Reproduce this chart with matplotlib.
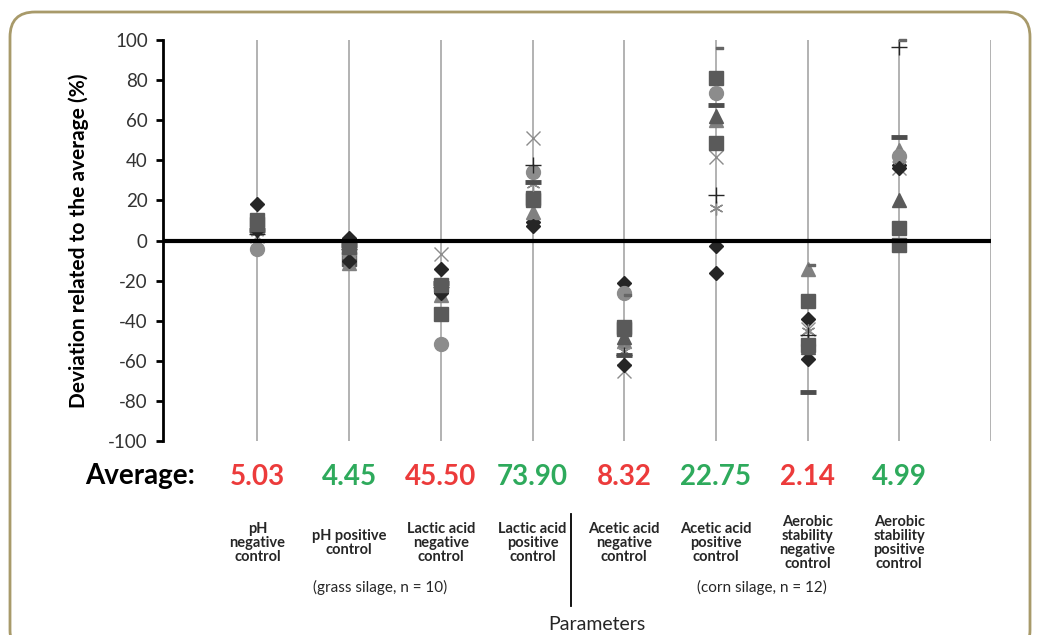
import numpy as np
import matplotlib
matplotlib.use("Agg")
import matplotlib.pyplot as plt
from matplotlib.patches import FancyBboxPatch
from matplotlib.path import Path
from matplotlib.transforms import IdentityTransform

plt.rcParams['font.family'] = ['Lato', 'DejaVu Sans']
plt.rcParams['axes.unicode_minus'] = False

# parameters (x positions 1..8)
categories = ["pH\nnegative\ncontrol", "pH positive\ncontrol",
              "Lactic acid\nnegative\ncontrol", "Lactic acid\npositive\ncontrol",
              "Acetic acid\nnegative\ncontrol", "Acetic acid\npositive\ncontrol",
              "Aerobic\nstability\nnegative\ncontrol", "Aerobic\nstability\npositive\ncontrol"]
averages = ["5.03", "4.45", "45.50", "73.90", "8.32", "22.75", "2.14", "4.99"]
avg_good = [False, True, False, True, False, True, False, True]

# deviation (%) per laboratory, one list per lab, NaN = not analysed
nan = np.nan
lab1 = [18, 1, -14, 9, -21, -2.5, -39, 37.5]
lab2 = [10, -9, -36.5, 21, -44, 81, -30, 6]
lab3 = [7, -11, -27, 14, -50, 60, -14, 45]
lab4 = [2, -5, -6.5, 51, -65, 41.5, -44, 36]
lab5 = [4, -7, -24, 28, -55, 16, -45, 38]
lab6 = [-4, -6, -51.5, 34, -26, 73.5, -52, 42]
lab7 = [3, -4, -23, 37.5, -57, 22.5, -47, 96.5]
lab8 = [5, -2, -21, 29, -57, 67.5, -75.5, 51.5]
lab9 = [5, -10, -26, 7, -62, -16, -59, 36]
lab10 = [8, -3, -22, 20, -43, 48.5, -52, -2]
lab11 = [nan, nan, nan, nan, -48, 62, -53, 20]
lab12 = [nan, nan, nan, nan, -28, 95, -13, 99]
labs = [lab1, lab2, lab3, lab4, lab5, lab6, lab7, lab8, lab9, lab10, lab11, lab12]

# small flag marker (dash drawn to the right of the point)
flag = Path([(0, 0.15), (1, 0.15), (1, 0.45), (0, 0.45), (0, 0.15)])

styles = [
    dict(marker='D', ms=7.5, color='#262626'),
    dict(marker='s', ms=10, color='#5a5a5a'),
    dict(marker='^', ms=10, color='#808080'),
    dict(marker='x', ms=10, color='#8c8c8c', mew=1),
    dict(marker=(6, 2, 0), ms=10, color='#8c8c8c', mew=1),
    dict(marker='o', ms=10, color='#8c8c8c'),
    dict(marker='+', ms=12, color='#262626', mew=1),
    dict(marker='_', ms=11, color='#4d4d4d', mew=3.5),
    dict(marker='D', ms=7.5, color='#262626'),
    dict(marker='s', ms=10, color='#5a5a5a'),
    dict(marker='^', ms=10, color='#5a5a5a'),
    dict(marker=flag, ms=10, color='#666666'),
]

fig = plt.figure(figsize=(10.4, 6.35), dpi=100)
ax = fig.add_axes([163 / 1040, 1 - 441 / 635, (991 - 163) / 1040, 401 / 635])

x = np.arange(1, 9)
for vals, st in zip(labs, styles):
    ax.plot(x, vals, linestyle='none', zorder=3, clip_on=False, **st)

# vertical grid lines
for gx in range(1, 10):
    ax.axvline(gx, color='#a6a6a6', lw=1.2, zorder=1)
ax.axhline(0, color='black', lw=3, zorder=4)

ax.set_xlim(-0.03, 9)
ax.set_ylim(-100, 100)
ax.set_yticks(np.arange(-100, 101, 20))
ax.set_xticks([])
for s in ['top', 'right', 'bottom']:
    ax.spines[s].set_visible(False)
ax.spines['left'].set_linewidth(2)
ax.tick_params(axis='y', direction='out', length=5, width=2, labelsize=13.5,
               labelcolor='#333333', pad=6)
ax.set_ylabel("Deviation related to the average (%)", fontsize=15,
              fontweight='bold', labelpad=14)

# averages row
fig.text(85 / 1040, 1 - 476 / 635, "Average:", fontsize=20, fontweight='bold',
         va='center', ha='left')
for i in range(8):
    xf = ax.transData.transform((x[i], 0))[0] / 1040
    col = '#2eaa5c' if avg_good[i] else '#ec3b3b'
    fig.text(xf, 1 - 477 / 635, averages[i], fontsize=20, fontweight='bold',
             color=col, ha='center', va='center')
    fig.text(xf, 1 - 543 / 635, categories[i], fontsize=10.5, fontweight='bold',
             color='#262626', ha='center', va='center', linespacing=1.0)

fig.text(380 / 1040, 1 - 587 / 635, "(grass silage, n = 10)", fontsize=11,
         color='#262626', ha='center', va='center')
fig.text(762 / 1040, 1 - 587 / 635, "(corn silage, n = 12)", fontsize=11,
         color='#262626', ha='center', va='center')
fig.add_artist(plt.Line2D([571 / 1040, 571 / 1040], [1 - 514 / 635, 1 - 606 / 635],
                          color='black', lw=1.3))
fig.text(597 / 1040, 1 - 624 / 635, "Parameters", fontsize=14,
         color='#262626', ha='center', va='center')

# rounded frame around the whole figure
frame = FancyBboxPatch((10, -20), 1020, 643,
                       boxstyle="round,pad=0,rounding_size=25",
                       transform=IdentityTransform(), fill=False,
                       edgecolor='#a89a6a', lw=2)
fig.patches.append(frame)

fig.savefig("out.png", dpi=100)
